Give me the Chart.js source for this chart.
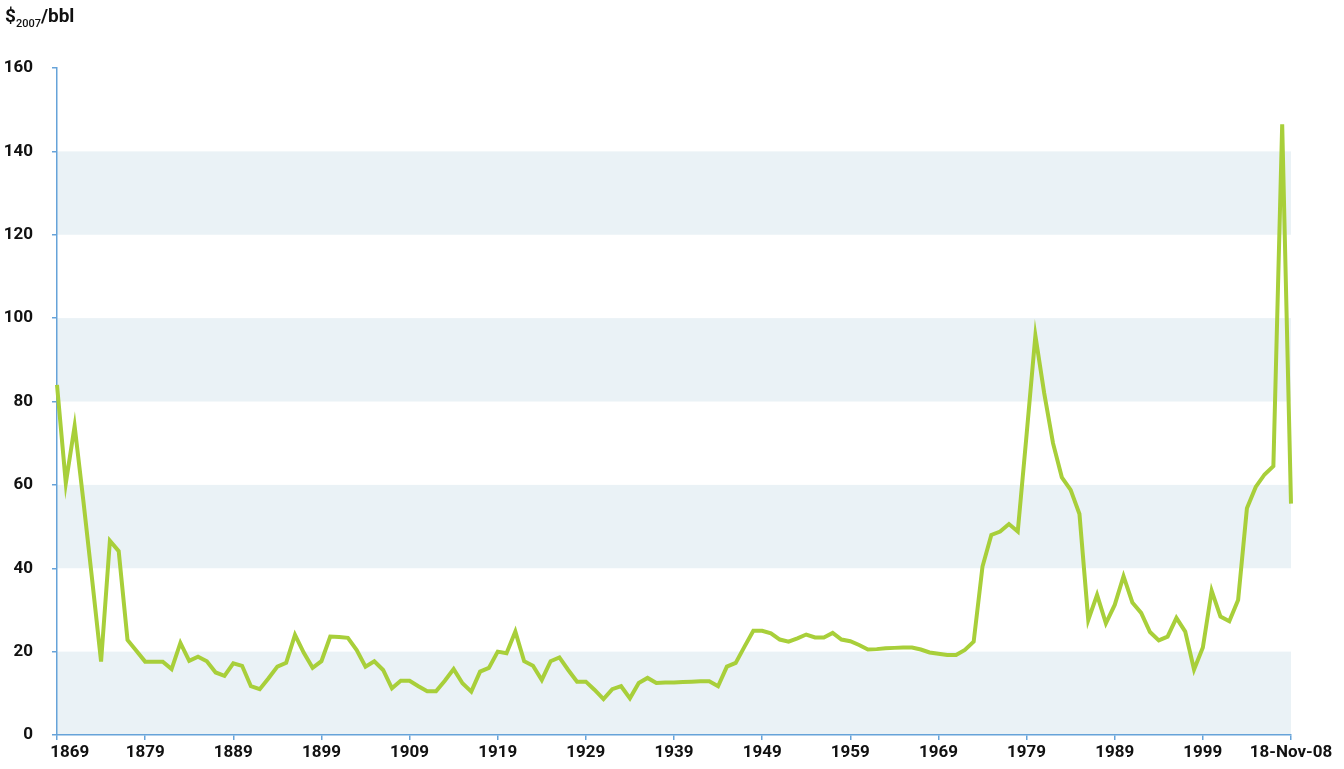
<!DOCTYPE html>
<html>
<head>
<meta charset="utf-8">
<script src="https://cdn.jsdelivr.net/npm/chart.js@4/dist/chart.umd.min.js"></script>
<style>
  html, body { margin: 0; padding: 0; background: #fff; }
  #caixa { position: relative; width: 1344px; height: 769px; }
  #titulo {
    position: absolute; left: 5px; top: 4px;
    font-family: Roboto, "DejaVu Sans", sans-serif; font-weight: 700;
    font-size: 19px; color: #111;
  }
  #titulo sub { font-size: 11px; font-weight: 500; vertical-align: -5px; }
</style>
</head>
<body>
<div id="caixa">
  <canvas id="grafico" width="1344" height="769"></canvas>
  <div id="titulo">$<sub>2007</sub>/bbl</div>
</div>
<script>
// anos 1869..2008 e o ultimo ponto diario
let anos = [];
for (let a = 1869; a <= 2008; a++) anos.push(String(a));
anos.push("18-Nov-08");

// precos em US$ de 2007 por barril
let precos1869a1908 = [
  84, 60.4, 74.1, 56, 37, 17.6, 46.6, 44.1, 22.8, 20.2,
  17.6, 17.6, 17.6, 15.8, 22.1, 17.8, 18.8, 17.7, 15.0, 14.2,
  17.2, 16.6, 11.7, 11.0, 13.6, 16.4, 17.3, 24.0, 19.7, 16.1,
  17.7, 23.6, 23.5, 23.3, 20.4, 16.4, 17.7, 15.6, 11.2, 13.0
];
let precos1909a1948 = [
  13.0, 11.7, 10.5, 10.5, 13.0, 15.8, 12.4, 10.4, 15.2, 16.1,
  20.0, 19.6, 24.8, 17.7, 16.6, 13.2, 17.7, 18.6, 15.6, 12.8,
  12.8, 10.8, 8.6, 11.0, 11.7, 8.8, 12.5, 13.7, 12.5, 12.6,
  12.6, 12.7, 12.8, 12.9, 12.9, 11.7, 16.4, 17.3, 21.2, 25.0
];
let precos1949a1988 = [
  25.0, 24.4, 22.9, 22.4, 23.2, 24.1, 23.4, 23.4, 24.5, 22.9,
  22.5, 21.6, 20.5, 20.6, 20.8, 20.9, 21.0, 21.0, 20.5, 19.8,
  19.5, 19.2, 19.2, 20.4, 22.4, 40.4, 48.0, 48.8, 50.6, 48.8,
  72, 95.8, 82, 70.0, 61.8, 58.8, 53.0, 27.6, 33.6, 26.8
];
let precos1989a2008 = [
  31.2, 38.1, 31.8, 29.3, 24.7, 22.7, 23.6, 28.1, 24.8, 15.7,
  21.0, 34.6, 28.4, 27.3, 32.4, 54.4, 59.5, 62.5, 64.5, 146.5
];
let precoNov08 = [55.5];

let precos = precos1869a1908.concat(precos1909a1948, precos1949a1988, precos1989a2008, precoNov08);

let azulEixo = "#66a3d9";
let fonteEixo = { family: "Roboto, 'DejaVu Sans', sans-serif", size: 17, weight: "bold" };

// faixas horizontais alternadas no fundo
const faixas = {
  id: "faixas",
  beforeDraw(chart) {
    const { ctx, chartArea, scales } = chart;
    const y = scales.y;
    ctx.save();
    ctx.fillStyle = "#eaf2f6";
    for (let v = 0; v < 160; v += 40) {
      const topo = y.getPixelForValue(v + 20);
      const base = y.getPixelForValue(v);
      ctx.fillRect(chartArea.left, topo, chartArea.right - chartArea.left, base - topo);
    }
    ctx.restore();
  }
};

const ctx = document.getElementById("grafico").getContext("2d");
const grafico = new Chart(ctx, {
  type: "line",
  data: {
    labels: anos,
    datasets: [{
      label: "Preço do petróleo",
      data: precos,
      borderColor: "#a8cf3a",
      borderWidth: 4,
      pointRadius: 0,
      tension: 0,
      fill: false
    }]
  },
  options: {
    responsive: false,
    animation: false,
    devicePixelRatio: 1,
    layout: { padding: { top: 68, right: 53, left: 0, bottom: 0 } },
    plugins: { legend: { display: false }, tooltip: { enabled: false } },
    scales: {
      x: {
        offset: false,
        border: { display: true, color: azulEixo, width: 1.5 },
        grid: { drawOnChartArea: false, drawTicks: true, tickLength: 5, color: azulEixo, lineWidth: 1.5 },
        ticks: {
          autoSkip: false,
          maxRotation: 0,
          padding: 3,
          color: "#111",
          font: fonteEixo,
          callback: function (valor, indice) {
            if (indice % 10 !== 0) return null;
            let rotulo = this.getLabelForValue(valor);
            // o primeiro rotulo fica deslocado para a direita, como no original
            return indice === 0 ? "      " + rotulo : rotulo;
          }
        },
        afterFit(escala) { escala.height = 34; }
      },
      y: {
        min: 0,
        max: 160,
        border: { display: true, color: azulEixo, width: 1.5 },
        grid: { drawOnChartArea: false, drawTicks: true, tickLength: 5, color: azulEixo, lineWidth: 1.5 },
        ticks: { stepSize: 20, padding: 19, color: "#111", font: fonteEixo },
        afterFit(escala) { escala.width = 57; }
      }
    }
  },
  plugins: [faixas]
});
</script>
</body>
</html>
